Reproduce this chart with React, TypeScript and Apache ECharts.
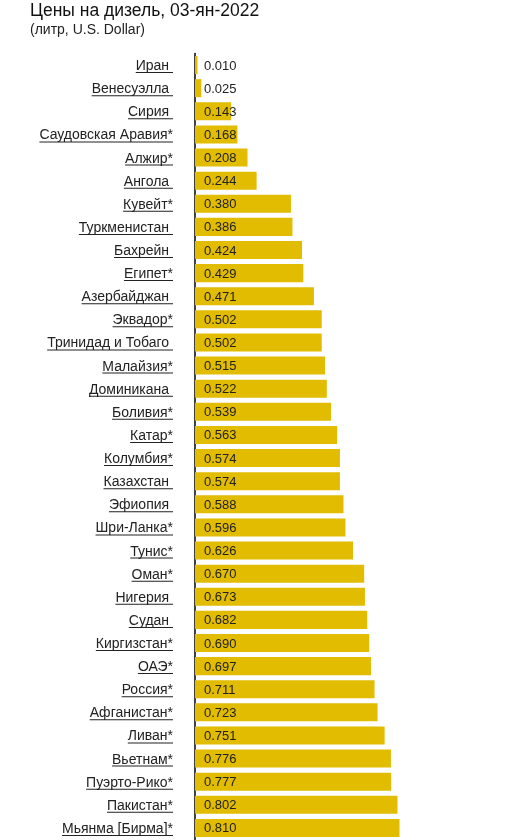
import React, { useEffect, useRef } from "react";
import * as echarts from "echarts";

const TITLE = "Цены на дизель, 03-ян-2022";
const SUBTITLE = "(литр, U.S. Dollar)";

const countries = [
  "Иран", "Венесуэлла", "Сирия", "Саудовская Аравия*", "Алжир*", "Ангола",
  "Кувейт*", "Туркменистан", "Бахрейн", "Египет*", "Азербайджан", "Эквадор*",
  "Тринидад и Тобаго", "Малайзия*", "Доминикана", "Боливия*", "Катар*",
  "Колумбия*", "Казахстан", "Эфиопия", "Шри-Ланка*", "Тунис*", "Оман*",
  "Нигерия", "Судан", "Киргизстан*", "ОАЭ*", "Россия*", "Афганистан*",
  "Ливан*", "Вьетнам*", "Пуэрто-Рико*", "Пакистан*", "Мьянма [Бирма]*",
];

const prices = [
  0.010, 0.025, 0.143, 0.168, 0.208, 0.244,
  0.380, 0.386, 0.424, 0.429, 0.471, 0.502,
  0.502, 0.515, 0.522, 0.539, 0.563,
  0.574, 0.574, 0.588, 0.596, 0.626, 0.670,
  0.673, 0.682, 0.690, 0.697, 0.711, 0.723,
  0.751, 0.776, 0.777, 0.802, 0.810,
];

const FF = "'Liberation Sans', Arial, sans-serif";
const FONT = "14px " + FF;

export default function App() {
  const ref = useRef<HTMLDivElement>(null);

  useEffect(() => {
    if (!ref.current) return;
    const chart = echarts.init(ref.current, null, { renderer: "svg" });
    const ctx = document.createElement("canvas").getContext("2d")!;
    ctx.font = FONT;
    const spaceW = ctx.measureText(" ").width;

    chart.setOption({
      animation: false,
      title: {
        text: TITLE,
        subtext: SUBTITLE,
        left: 30,
        top: 1,
        padding: 0,
        itemGap: 3,
        textStyle: {
          fontFamily: FF,
          fontSize: 17.5,
          fontWeight: "normal",
          color: "#111",
        },
        subtextStyle: {
          fontFamily: FF,
          fontSize: 14,
          color: "#222",
        },
      },
      grid: { left: 195, right: 58.5, top: 53.5, bottom: 0.5, containLabel: false },
      xAxis: {
        type: "value",
        min: 0,
        max: 1,
        show: false,
      },
      yAxis: {
        type: "category",
        data: countries,
        inverse: true,
        axisLine: { show: true, lineStyle: { color: "#000", width: 1.5 } },
        axisTick: { show: false },
        axisLabel: { show: false },
        splitLine: { show: false },
      },
      series: [
        {
          type: "bar",
          data: prices,
          barCategoryGap: "22%",
          itemStyle: { color: "#E2BC00" },
          label: {
            show: true,
            position: "insideLeft",
            distance: 9,
            formatter: (p: any) => Number(p.value).toFixed(3),
            fontFamily: FF,
            fontSize: 13,
            color: "#222",
          },
        },
        {
          type: "custom",
          clip: false,
          silent: true,
          data: countries.map((_, i) => [0, i]),
          encode: { x: 0, y: 1 },
          renderItem: (params: any, api: any) => {
            const idx = api.value(1);
            const name = countries[idx];
            const pt = api.coord([0, idx]);
            const right = pt[0] - 22;
            const trailing = name.endsWith("*") ? 0 : spaceW;
            const w = ctx.measureText(name).width + trailing;
            const yc = pt[1];
            return {
              type: "group",
              children: [
                {
                  type: "text",
                  style: {
                    text: name,
                    x: right - trailing,
                    y: yc,
                    align: "right",
                    verticalAlign: "middle",
                    font: FONT,
                    fill: "#222",
                  },
                },
                {
                  type: "rect",
                  shape: { x: right - w, y: yc + 7, width: w, height: 1 },
                  style: { fill: "#222" },
                },
              ],
            };
          },
        },
      ],
    });
    return () => chart.dispose();
  }, []);

  return (
    <div
      ref={ref}
      style={{ position: "fixed", left: 0, top: 0, width: 506, height: 840 }}
    />
  );
}
